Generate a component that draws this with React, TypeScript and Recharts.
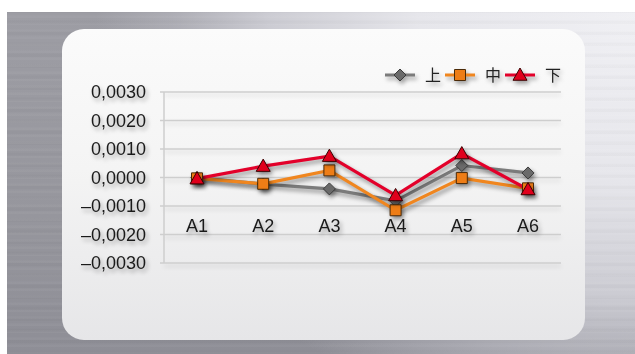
import React from 'react';
import { LineChart, Line, XAxis, YAxis, CartesianGrid } from 'recharts';

const categories = ['A1', 'A2', 'A3', 'A4', 'A5', 'A6'];
const upperValues = [0.0, -0.00023, -0.0004, -0.00082, 0.00042, 0.00016];
const middleValues = [-0.00003, -0.00022, 0.00025, -0.00115, -0.00002, -0.00038];
const lowerValues = [-0.00004, 0.0004, 0.00075, -0.00063, 0.00084, -0.00042];
const yTicks = [-0.003, -0.002, -0.001, 0, 0.001, 0.002, 0.003];

const seriesInfo = [
  { key: 'upper', name: '上', color: '#7b7b7b', fill: '#6a6a6a', edge: '#3a3a3a', shape: 'diamond' },
  { key: 'middle', name: '中', color: '#f0861f', fill: '#ee7d16', edge: '#4a2a08', shape: 'square' },
  { key: 'lower', name: '下', color: '#e3002a', fill: '#e0001c', edge: '#3a0000', shape: 'triangle' },
];

const data = categories.map((name, i) => ({
  name,
  upper: upperValues[i],
  middle: middleValues[i],
  lower: lowerValues[i],
}));

const FONT = '"Liberation Sans", Arial, Helvetica, sans-serif';

const formatTick = (v: number) =>
  (v < 0 ? '–' : '') + Math.abs(v).toFixed(4).replace('.', ',');

const markerPath = (shape: string, cx: number, cy: number) => {
  if (shape === 'diamond') {
    const r = 6;
    return `M${cx},${cy - r}L${cx + r},${cy}L${cx},${cy + r}L${cx - r},${cy}Z`;
  }
  if (shape === 'square') {
    const r = 5.5;
    return `M${cx - r},${cy - r}H${cx + r}V${cy + r}H${cx - r}Z`;
  }
  const r = 7;
  return `M${cx},${cy - r}L${cx + r},${cy + r * 0.75}L${cx - r},${cy + r * 0.75}Z`;
};

const makeDot = (shape: string, fill: string, edge: string) => (props: any) => {
  const { cx, cy, index } = props;
  if (cx == null || cy == null) return <g key={`d-${index}`} />;
  return (
    <path
      key={`${shape}-${index}`}
      d={markerPath(shape, cx, cy)}
      fill={fill}
      stroke={edge}
      strokeWidth={1}
    />
  );
};

// category labels sit inside the plot, just under the -0,0010 line
const CategoryTick = (props: any) => {
  const { x, payload } = props;
  return (
    <text
      x={x}
      y={232}
      textAnchor="middle"
      fill="#1a1a1a"
      fontSize={18}
      fontFamily={FONT}
      className="shadowed"
    >
      {payload.value}
    </text>
  );
};

// legend drawn as one small svg: line + marker, then the series name
const LegendBox = () => (
  <svg
    width={190}
    height={24}
    style={{ position: 'absolute', left: 383, top: 63, overflow: 'visible' }}
    className="shadowed"
  >
    {seriesInfo.map((s, i) => {
      const x0 = 2 + i * 60;
      return (
        <g key={s.key}>
          <line x1={x0} y1={12} x2={x0 + 30} y2={12} stroke={s.color} strokeWidth={3} />
          <path d={markerPath(s.shape, x0 + 15, 12)} fill={s.fill} stroke={s.edge} strokeWidth={1} />
          <text
            x={x0 + 40}
            y={18}
            fontSize={16}
            fill="#222222"
            fontFamily='"Noto Sans CJK SC", sans-serif'
          >
            {s.name}
          </text>
        </g>
      );
    })}
  </svg>
);

export default function App() {
  return (
    <div
      style={{
        position: 'absolute',
        left: 0,
        top: 0,
        width: 635,
        height: 354,
        background: '#ffffff',
        overflow: 'hidden',
      }}
    >
      <style>{`
        body { margin: 0; }
        .shadowed { filter: drop-shadow(2px 3px 2px rgba(0,0,0,0.35)); }
        .recharts-cartesian-axis-tick-value { filter: drop-shadow(2px 3px 2px rgba(0,0,0,0.35)); }
        .recharts-line-curve { filter: drop-shadow(2px 3px 2px rgba(0,0,0,0.4)); }
        .recharts-line-dots { filter: drop-shadow(2px 3px 2px rgba(0,0,0,0.4)); }
        .recharts-cartesian-grid-horizontal line { filter: drop-shadow(0px 3px 2px rgba(0,0,0,0.12)); }
      `}</style>
      {/* brushed metal backdrop, brightest toward the upper right */}
      <div
        style={{
          position: 'absolute',
          left: 7,
          top: 12,
          right: 0,
          bottom: 0,
          background: [
            'repeating-linear-gradient(0deg, rgba(255,255,255,0.035) 0px, rgba(255,255,255,0.035) 2px, transparent 3px, transparent 7px)',
            'repeating-linear-gradient(0deg, rgba(0,0,0,0.02) 0px, rgba(0,0,0,0.02) 3px, transparent 4px, transparent 11px)',
            'radial-gradient(ellipse 540px 420px at 100% 0%, #f0f0f4 0%, #e6e6eb 40%, rgba(206,206,213,0.95) 68%, rgba(185,185,193,0.6) 85%, rgba(160,160,168,0) 100%)',
            'linear-gradient(180deg, #9d9da4 0%, #96969d 60%, #8e8e96 100%)',
          ].join(', '),
        }}
      />
      {/* rounded panel */}
      <div
        style={{
          position: 'absolute',
          left: 62,
          top: 29,
          width: 523,
          height: 311,
          borderRadius: 22,
          background: 'linear-gradient(180deg, #fbfbfb 0%, #f4f4f4 45%, #e6e6e8 100%)',
        }}
      />
      <div style={{ position: 'absolute', left: 0, top: 0 }}>
        <LineChart
          width={635}
          height={354}
          data={data}
          margin={{ top: 92, right: 74, bottom: 61, left: 0 }}
          style={{ fontFamily: FONT }}
        >
          <CartesianGrid vertical={false} stroke="#cecece" strokeWidth={1.5} />
          <XAxis
            dataKey="name"
            axisLine={false}
            tickLine={false}
            interval={0}
            height={30}
            padding={{ left: 33, right: 33 }}
            tick={<CategoryTick />}
          />
          <YAxis
            width={164}
            domain={[-0.003, 0.003]}
            ticks={yTicks}
            tickFormatter={formatTick}
            tickSize={4}
            tickMargin={14}
            axisLine={{ stroke: '#cecece', strokeWidth: 1.5 }}
            tickLine={{ stroke: '#cecece', strokeWidth: 1.5 }}
            tick={{ fill: '#1a1a1a', fontSize: 18, fontFamily: FONT }}
            interval={0}
          />
          {seriesInfo.map((s) => (
            <Line
              key={s.key}
              dataKey={s.key}
              name={s.name}
              type="linear"
              stroke={s.color}
              strokeWidth={3.2}
              dot={makeDot(s.shape, s.fill, s.edge)}
              activeDot={false}
              isAnimationActive={false}
            />
          ))}
        </LineChart>
      </div>
      <LegendBox />
    </div>
  );
}
